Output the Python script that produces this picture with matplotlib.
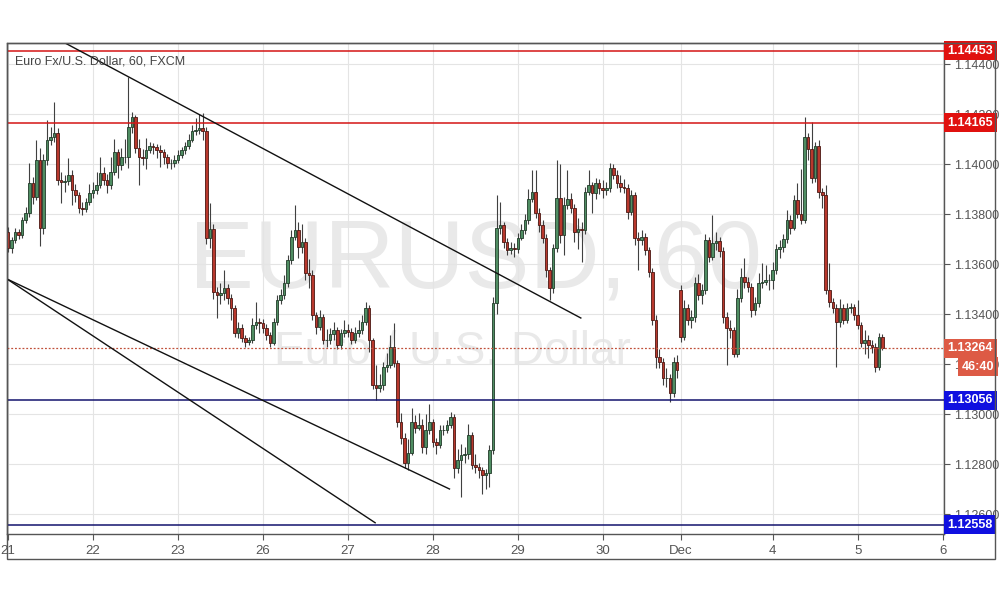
import numpy as np
import matplotlib.pyplot as plt
from matplotlib.patches import Rectangle
from matplotlib.transforms import blended_transform_factory

plt.rcParams['font.family'] = ['Liberation Sans', 'DejaVu Sans']

# EUR/USD hourly bars, prices in pips above 1.1200
first_open = 172.9
closes = [166.5, 169.7, 172.9, 171.7, 177.7, 180.5, 192.5, 186.9, 201.7, 174.5, 201.7, 209.7,
          211.0, 212.5, 193.7, 193.0, 193.2, 195.7, 189.7, 187.7, 182.5, 182.1, 184.9, 188.5,
          189.5, 191.7, 196.5, 193.7, 191.7, 196.9, 204.9, 199.7, 202.9, 203.0, 214.9, 218.9,
          206.5, 202.9, 202.5, 205.7, 207.3, 206.9, 205.7, 204.9, 202.9, 200.5, 200.5, 201.7,
          203.7, 205.7, 207.3, 209.7, 213.3, 213.7, 214.5, 213.3, 170.5, 174.1, 148.9, 147.7,
          148.5, 150.5, 146.5, 142.5, 132.5, 134.5, 130.5, 129.0, 129.7, 135.7, 136.9, 136.5,
          134.5, 131.5, 128.5, 136.9, 145.7, 147.7, 152.5, 161.7, 170.9, 173.7, 166.9, 168.9,
          156.5, 155.5, 139.7, 134.9, 138.9, 129.7, 129.7, 132.0, 133.5, 127.7, 132.5, 133.5,
          133.0, 129.5, 132.5, 133.5, 136.9, 142.5, 129.5, 111.7, 110.5, 111.7, 118.9, 119.7,
          126.9, 120.5, 96.9, 90.5, 80.5, 84.5, 96.9, 94.5, 95.5, 86.9, 93.7, 96.9,
          88.9, 87.7, 93.7, 93.7, 95.7, 98.9, 78.5, 81.7, 83.7, 84.0, 91.7, 79.7,
          78.9, 77.7, 75.7, 76.5, 85.5, 144.5, 174.5, 175.5, 168.9, 165.7, 166.5, 166.1,
          170.5, 173.7, 177.7, 186.1, 188.9, 180.5, 175.7, 170.5, 157.7, 150.5, 166.5, 186.5,
          171.7, 183.7, 186.1, 182.5, 172.9, 174.0, 173.7, 188.9, 191.7, 188.5, 192.5, 190.5,
          189.7, 190.5, 198.5, 195.7, 192.5, 190.9, 190.5, 180.9, 187.7, 170.5, 169.7, 170.9,
          165.7, 156.9, 137.7, 122.9, 120.9, 114.5, 114.5, 108.5, 120.9, 117.7, 130.9, 142.5,
          137.5, 139.0, 152.5, 147.7, 149.7, 169.7, 163.0, 168.5, 169.3, 165.3, 138.9, 134.5,
          133.7, 124.1, 146.5, 154.9, 152.9, 150.9, 141.7, 144.5, 152.5, 153.0, 153.7, 153.7,
          157.7, 166.1, 166.9, 170.1, 177.7, 174.5, 185.7, 180.1, 177.7, 210.9, 206.1, 194.5,
          207.3, 188.9, 187.7, 149.7, 144.9, 142.5, 136.9, 142.5, 137.7, 142.5, 142.9, 139.7,
          135.7, 128.5, 129.7, 127.7, 127.0, 118.9, 130.9, 126.5]
highs = [175.0, 171.0, 174.5, 174.0, 179.0, 183.0, 200.5, 195.0, 209.7, 206.5, 204.0, 217.7,
         215.0, 224.9, 214.5, 197.0, 195.5, 202.5, 197.5, 192.0, 189.0, 185.0, 186.5, 192.0,
         193.0, 197.0, 203.0, 199.0, 196.0, 203.0, 210.0, 206.0, 206.5, 210.0, 234.9, 221.0,
         219.5, 210.0, 206.0, 210.5, 209.0, 208.5, 208.0, 207.5, 206.0, 204.0, 202.0, 203.5,
         205.5, 207.0, 209.0, 212.0, 215.5, 218.5, 220.1, 220.5, 215.0, 184.5, 176.0, 151.0,
         152.5, 157.5, 152.0, 148.0, 143.5, 137.0, 136.0, 131.5, 131.0, 138.5, 145.0, 138.5,
         138.0, 136.0, 133.0, 138.5, 147.5, 150.0, 155.5, 163.5, 173.5, 183.7, 177.0, 176.0,
         170.5, 162.0, 157.5, 141.0, 141.5, 140.0, 134.0, 134.5, 137.0, 135.0, 134.0, 137.5,
         136.0, 134.5, 135.0, 137.5, 139.5, 145.0, 143.5, 130.5, 119.5, 116.0, 121.0, 124.5,
         131.5, 136.5, 121.5, 100.5, 92.5, 90.0, 102.5, 99.5, 100.5, 98.0, 100.0, 104.0,
         98.0, 90.5, 95.5, 95.5, 97.5, 101.0, 100.0, 86.0, 88.0, 87.0, 96.0, 93.0,
         84.0, 80.5, 79.0, 78.0, 87.5, 147.0, 187.7, 185.0, 177.0, 170.5, 169.0, 168.5,
         172.5, 176.0, 180.0, 190.0, 197.7, 197.7, 182.5, 177.5, 172.0, 159.0, 168.0, 201.7,
         200.0, 187.0, 197.7, 188.5, 184.0, 178.5, 177.0, 191.0, 197.7, 193.0, 194.5, 194.0,
         193.5, 193.0, 200.5, 200.0, 197.5, 195.5, 194.0, 192.0, 189.5, 189.0, 173.0, 173.5,
         172.5, 167.0, 158.5, 139.5, 126.0, 122.5, 118.5, 116.0, 123.0, 123.7, 151.5, 145.5,
         144.0, 141.5, 155.0, 156.0, 152.0, 172.0, 171.0, 179.7, 173.0, 171.0, 167.0, 141.0,
         137.5, 135.0, 150.0, 158.5, 162.5, 155.0, 152.5, 147.0, 156.5, 160.5, 159.5, 156.0,
         161.0, 168.0, 169.5, 172.0, 181.7, 179.5, 187.5, 192.5, 198.0, 218.9, 212.5, 216.9,
         209.0, 209.7, 190.5, 191.7, 160.5, 146.5, 144.0, 146.0, 144.0, 144.5, 144.5, 144.0,
         145.5, 137.0, 133.5, 131.5, 129.5, 128.5, 132.5, 132.0]
lows = [165.0, 164.5, 168.5, 170.0, 170.5, 176.5, 179.0, 184.0, 185.5, 167.3, 172.0, 199.5,
        207.5, 209.0, 191.5, 184.5, 189.0, 191.5, 183.7, 185.0, 180.5, 179.5, 181.0, 183.5,
        186.5, 188.0, 190.5, 191.5, 188.5, 190.0, 195.5, 194.5, 197.5, 200.5, 198.5, 212.5,
        204.5, 191.7, 199.5, 198.0, 204.5, 204.0, 202.5, 199.0, 200.0, 198.5, 198.0, 199.0,
        200.5, 202.5, 204.0, 206.0, 209.0, 211.5, 212.0, 209.5, 168.0, 166.5, 146.0, 138.5,
        144.0, 145.5, 144.0, 137.7, 131.0, 130.5, 129.0, 127.0, 127.5, 128.5, 134.0, 132.5,
        132.5, 129.5, 127.0, 127.5, 135.5, 144.0, 146.0, 151.0, 160.0, 169.5, 162.5, 164.5,
        153.5, 150.5, 137.5, 132.0, 133.5, 128.0, 127.0, 128.0, 129.5, 126.0, 126.0, 131.0,
        131.0, 128.0, 128.5, 131.0, 132.0, 135.5, 125.0, 110.0, 105.7, 109.0, 109.5, 117.0,
        118.5, 119.0, 95.0, 88.0, 78.5, 77.7, 83.5, 92.5, 93.5, 84.5, 84.0, 92.0,
        87.0, 84.0, 86.5, 91.5, 92.5, 94.5, 74.5, 76.5, 67.0, 80.5, 82.0, 78.0,
        76.5, 74.5, 68.0, 70.0, 71.0, 84.0, 140.0, 172.0, 166.5, 163.5, 164.0, 163.0,
        164.5, 169.5, 172.0, 176.0, 185.0, 178.5, 173.0, 168.5, 155.0, 145.7, 148.5, 165.0,
        168.5, 163.5, 182.0, 180.5, 169.0, 166.0, 161.0, 172.0, 187.5, 180.5, 186.0, 188.0,
        186.5, 187.5, 189.0, 194.0, 190.5, 189.0, 188.5, 178.0, 179.5, 167.5, 157.5, 167.5,
        163.5, 155.0, 135.5, 118.5, 118.5, 111.5, 110.7, 105.0, 107.0, 114.5, 129.0, 129.7,
        135.5, 134.5, 137.0, 145.5, 144.0, 148.0, 161.0, 161.5, 165.5, 163.0, 136.5, 119.7,
        130.5, 123.0, 123.0, 145.0, 150.5, 149.0, 139.0, 139.5, 143.0, 150.5, 151.5, 149.5,
        150.0, 156.0, 162.5, 165.0, 168.5, 172.0, 173.5, 178.5, 176.0, 176.5, 201.5, 192.5,
        193.0, 186.5, 182.5, 148.0, 143.0, 140.5, 118.9, 135.0, 136.0, 136.5, 140.5, 137.5,
        134.0, 127.0, 124.0, 122.5, 124.5, 117.0, 117.5, 125.5]
gap_bar = 190       # Sunday open of Dec 3 gapped up
gap_open = 149.7

tick_pos = [0, 24, 48, 72, 96, 120, 144, 168, 190, 216, 240, 264]
tick_lab = ['21', '22', '23', '26', '27', '28', '29', '30', 'Dec', '4', '5', '6']
y_ticks = [1.126, 1.128, 1.130, 1.132, 1.134, 1.136, 1.138, 1.140, 1.142, 1.144]

red_levels = [1.14453, 1.14165]
blue_levels = [1.13056, 1.12558]
last_price = 1.13264
countdown = '46:40'

# hand drawn trend lines: (bar, price) end points
trend_lines = [[(16.1, 1.14485), (161.8, 1.13385)],
               [(-0.3, 1.13541), (124.7, 1.12701)],
               [(-0.3, 1.13541), (103.7, 1.12566)]]

c = 1.12 + np.array(closes) / 1e4
h = 1.12 + np.array(highs) / 1e4
l = 1.12 + np.array(lows) / 1e4
o = np.r_[1.12 + first_open / 1e4, c[:-1]]
o[gap_bar] = 1.12 + gap_open / 1e4
x = np.arange(len(c))

fig = plt.figure(figsize=(10.02, 5.96), dpi=100)
ax = fig.add_axes([7/1002, 62/596, 937/1002, 491/596])

ax.text(0.4995, 0.552, 'EURUSD, 60', transform=ax.transAxes, fontsize=70,
        color='#e9e9e9', ha='center', va='center', zorder=0)
ax.text(0.475, 0.371, 'Euro / U.S. Dollar', transform=ax.transAxes, fontsize=33,
        color='#e9e9e9', ha='center', va='center', zorder=0)

up = c >= o
body = np.maximum(np.abs(c - o), 0.000015)
ax.vlines(x, l, h, color='#404040', lw=0.8, zorder=3)
ax.bar(x[up], body[up], bottom=o[up], width=0.72, color='#4f8d62',
       edgecolor='#203a28', lw=0.6, zorder=4)
ax.bar(x[~up], body[~up], bottom=c[~up], width=0.72, color='#b8382d',
       edgecolor='#4a1712', lw=0.6, zorder=4)

for p in red_levels:
    ax.axhline(p, color='#d41515', lw=1.1, zorder=5)
for p in blue_levels:
    ax.axhline(p, color='#13136e', lw=1.1, zorder=5)
ax.axhline(last_price, color='#c0503a', lw=0.9, ls=(0, (1.5, 1.5)), zorder=5)
for (x0, y0), (x1, y1) in trend_lines:
    ax.plot([x0, x1], [y0, y1], color='#111111', lw=1.0, zorder=6)

ax.set_xlim(-0.3, 264.4)
ax.set_ylim(1.12521, 1.14485)
ax.set_xticks(tick_pos)
ax.set_xticklabels(tick_lab)
ax.set_yticks(y_ticks)
ax.set_yticklabels(['%.5f' % v for v in y_ticks])
ax.yaxis.tick_right()
ax.tick_params(axis='y', length=4, pad=3, labelsize=9, colors='#555555')
ax.tick_params(axis='x', length=4, pad=4, labelsize=9.5, colors='#555555')
ax.grid(color='#e4e4e4', lw=0.8, zorder=0)
ax.set_axisbelow(True)
for s in ax.spines.values():
    s.set_color('#555555')
    s.set_linewidth(1.0)

ax.text(0.0085, 0.963, 'Euro Fx/U.S. Dollar, 60, FXCM', transform=ax.transAxes,
        fontsize=9, color='#444444', va='center', ha='left', zorder=7)

tr = blended_transform_factory(ax.transAxes, ax.transData)
tags = [(p, '#e0110f') for p in red_levels] + [(last_price, '#dd5a45')] + \
       [(p, '#1010e0') for p in blue_levels]
for p, col in tags:
    ax.text(1.004, p, '%.5f' % p, transform=tr, fontsize=9, fontweight='bold',
            color='white', va='center', ha='left', clip_on=False, zorder=8,
            bbox=dict(boxstyle='square,pad=0.28', fc=col, ec='none'))
ax.text(1.0535, 1.13189, countdown, transform=tr, fontsize=9, fontweight='bold',
        color='white', va='center', ha='right', clip_on=False, zorder=8,
        bbox=dict(boxstyle='square,pad=0.28', fc='#dd5a45', ec='none'))

fig.add_artist(Rectangle((7/1002, 37/596), 988/1002, 516/596, transform=fig.transFigure,
                         fill=False, ec='#555555', lw=1.0))

fig.savefig('out.png', dpi=100)
